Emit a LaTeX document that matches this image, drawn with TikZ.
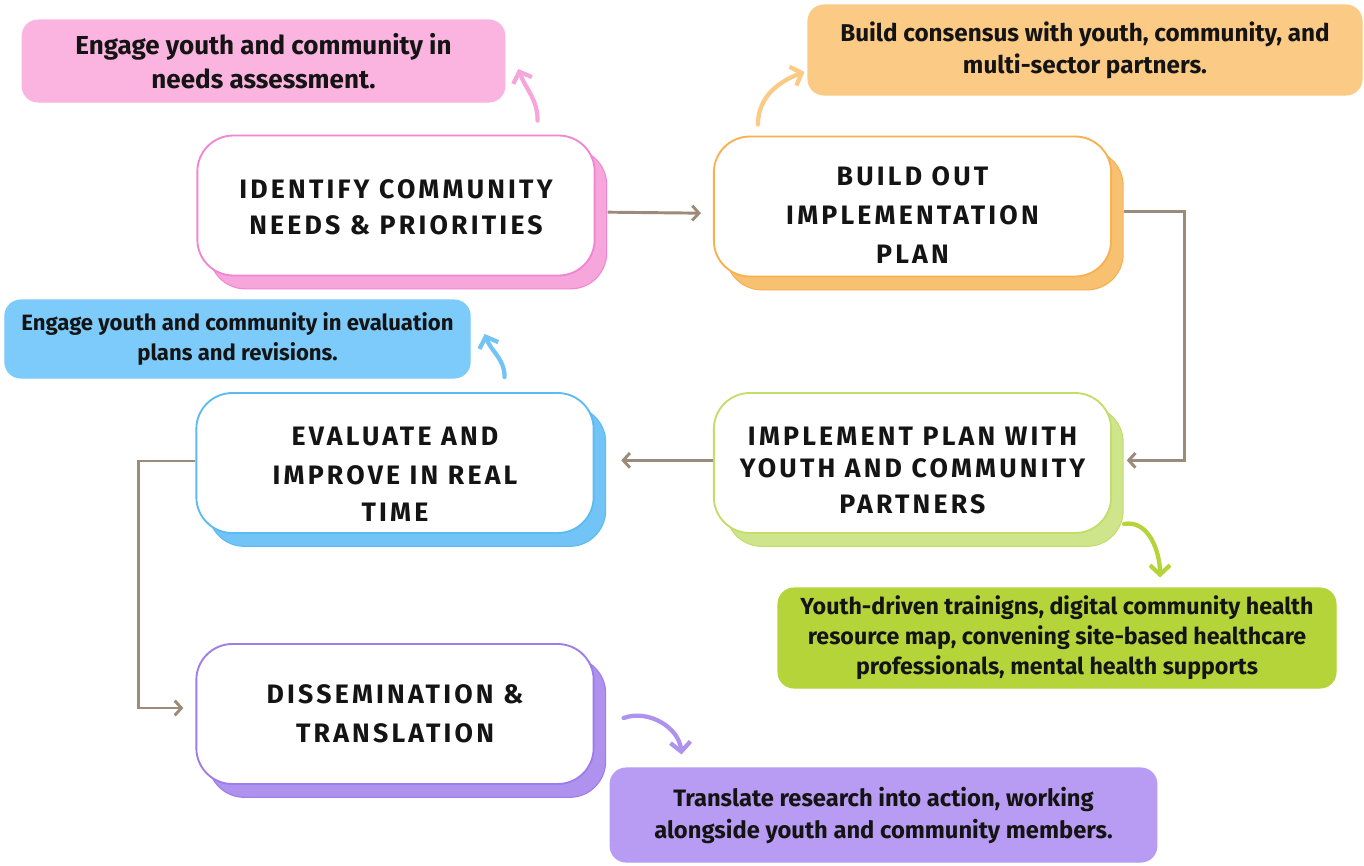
\documentclass[tikz,border=0pt]{standalone}
\usepackage{fontspec}
\setmainfont{Fira Sans}
\newfontfamily\headfont[LetterSpace=12]{Fira Sans}
\newfontfamily\calfont{Fira Sans}
\usetikzlibrary{arrows.meta,shadows,calc}
\definecolor{pinkfill}{HTML}{FBB4DF}
\definecolor{pinkline}{HTML}{F286D4}
\definecolor{pinkshadow}{HTML}{F6A6DA}
\definecolor{orangefill}{HTML}{FBCA85}
\definecolor{orangeline}{HTML}{F7B24F}
\definecolor{orangeshadow}{HTML}{F8C071}
\definecolor{bluefill}{HTML}{7DCBFA}
\definecolor{blueline}{HTML}{5DBBF3}
\definecolor{blueshadow}{HTML}{72C3F6}
\definecolor{greenfill}{HTML}{B5D43A}
\definecolor{greenline}{HTML}{C3DD6A}
\definecolor{greenshadow}{HTML}{CFE58C}
\definecolor{purplefill}{HTML}{B89BF2}
\definecolor{purpleline}{HTML}{9F7CEB}
\definecolor{purpleshadow}{HTML}{AE92EE}
\definecolor{conncol}{HTML}{9D8B79}
\definecolor{textcol}{HTML}{141414}
\newcommand\mtext[2]{\raisebox{#1}[0pt][0pt]{\begin{tabular}{@{}c@{}}#2\end{tabular}}}
\tikzset{
  mainbox/.style 2 args={draw=#1, line width=1.4pt, fill=white, rounded corners=27pt,
    minimum width=298pt, minimum height=105pt, align=center, text=textcol,
    font=\headfont\bfseries\fontsize{20}{29}\selectfont,
    general shadow={fill=#2, draw=#1, line width=0.8pt, shadow xshift=9pt, shadow yshift=-10pt}},
  callout/.style 2 args={fill=#1, draw=#2, line width=0.8pt, rounded corners=12pt,
    align=center, text=textcol},
  conn/.style={draw=conncol, line width=2.2pt, -{Straight Barb[length=5pt,width=11pt,line width=2.2pt]}},
  carrow/.style={draw=#1, line width=3.2pt, line cap=round,
    -{Straight Barb[length=7pt,width=15pt,line width=3.2pt]}}
}
\begin{document}
\begin{tikzpicture}[x=0.75pt,y=-0.75pt]
\useasboundingbox (0,0) rectangle (1364,865);
\fill[white] (0,0) rectangle (1364,865);

% callouts
\node[callout={pinkfill}{pinkfill}, minimum width=362pt, minimum height=61.5pt,
  font=\calfont\bfseries\fontsize{19.5}{25.5}\selectfont] (c1) at (263.5,61)
  {Engage youth and community in\\needs assessment.};
\node[callout={orangefill}{orangefill}, minimum width=415.5pt, minimum height=67.5pt,
  font=\calfont\bfseries\fontsize{18.2}{24}\selectfont] (c2) at (1085,50)
  {Build consensus with youth, community, and\\multi-sector partners.};
\node[callout={bluefill}{bluefill}, minimum width=349pt, minimum height=58.5pt,
  font=\calfont\bfseries\fontsize{16.6}{22.5}\selectfont] (c3) at (237.5,339)
  {Engage youth and community in evaluation\\plans and revisions.};
\node[callout={greenfill}{greenfill}, minimum width=418.5pt, minimum height=75pt,
  font=\calfont\bfseries\fontsize{17.4}{22.5}\selectfont] (c4) at (1057,638)
  {Youth-driven trainigns, digital community health\\resource map, convening site-based healthcare\\professionals, mental health supports};
\node[callout={purplefill}{purplefill}, minimum width=410pt, minimum height=70.5pt,
  font=\calfont\bfseries\fontsize{17.8}{24}\selectfont] (c5) at (883.5,815)
  {Translate research into action, working\\alongside youth and community members.};

% main boxes
\node[mainbox={pinkline}{pinkshadow}] (b1) at (396,205.5)
  {\mtext{-8pt}{IDENTIFY COMMUNITY\\[-2pt]NEEDS \& PRIORITIES}};
\node[mainbox={orangeline}{orangeshadow}] (b2) at (912.5,206.5)
  {\mtext{-13pt}{BUILD OUT\\IMPLEMENTATION\\PLAN}};
\node[mainbox={blueline}{blueshadow}] (b3) at (395,463)
  {\mtext{-15pt}{EVALUATE AND\\IMPROVE IN REAL\\[-1pt]TIME}};
\node[mainbox={greenline}{greenshadow}] (b4) at (912.5,463)
  {\mtext{-12pt}{IMPLEMENT PLAN WITH\\[-5pt]YOUTH AND COMMUNITY\\[-2pt]PARTNERS}};
\node[mainbox={purpleline}{purpleshadow}] (b5) at (395,714)
  {\mtext{-6pt}{DISSEMINATION \&\\TRANSLATION}};

% connectors
\draw[conn] ([xshift=9pt,yshift=-5pt]b1.east) -- ([xshift=-9pt,yshift=-5pt]b2.west);
\draw[conn] ([xshift=9pt,yshift=-3.5pt]b2.east) -- ++(45pt,0) |- ([xshift=11pt,yshift=2pt]b4.east);
\draw[conn] ([yshift=2pt]b4.west) -- ([xshift=20pt,yshift=2pt]b3.east);
\draw[conn] ([yshift=1.5pt]b3.west) -- ++(-43pt,0) |- ([xshift=-9pt,yshift=4.5pt]b5.west);

% callout arrows
\draw[carrow=pinkshadow] ($(b1.north east)+(-58,-14)$) to[out=90,in=-70] ($(c1.east)+(13,8)$);
\draw[carrow=orangefill] ($(b2.north west)+(45,-11)$) to[out=90,in=200] ($(c2.west)+(-3,22)$);
\draw[carrow=blueshadow] ($(b3.north east)+(-90,-15)$) to[out=90,in=-70] ($(c3.east)+(14,-5)$);
\draw[carrow=greenfill] ($(b4.south east)+(12,-10)$) to[out=10,in=90] ($(c4.north)+(103,-10)$);
\draw[carrow=purpleshadow] ($(b5.east)+(29,4)$) to[out=20,in=95] ($(c5.north)+(-202,-13)$);
\end{tikzpicture}
\end{document}
